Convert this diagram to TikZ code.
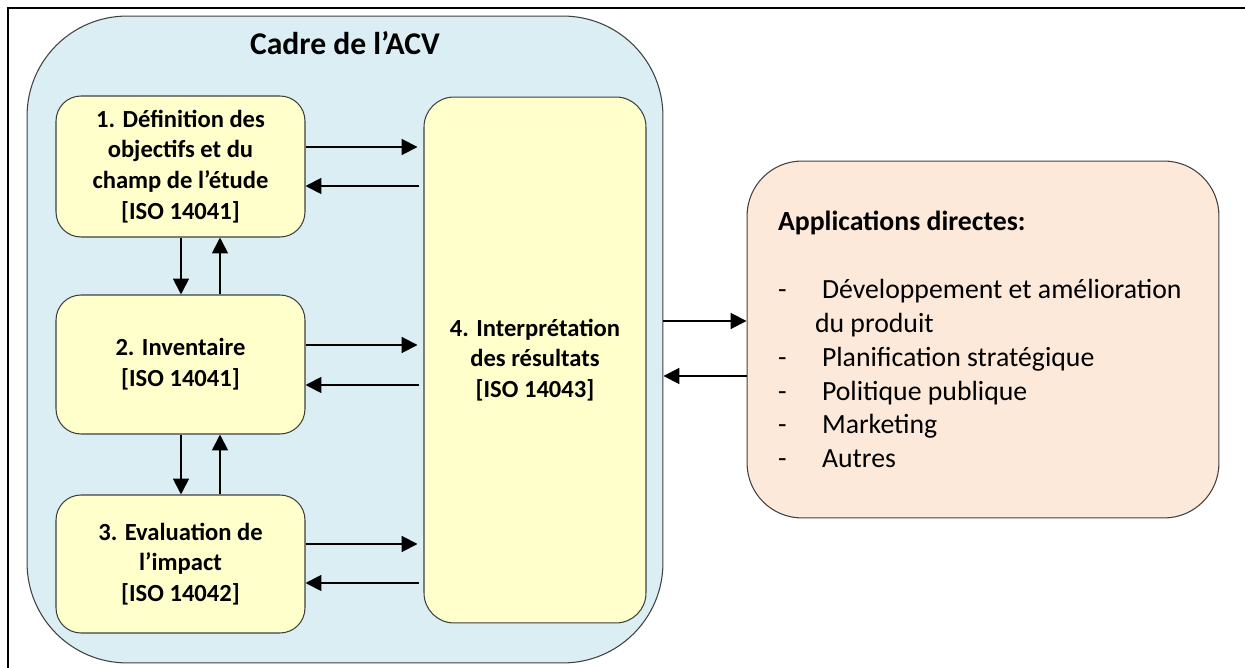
\documentclass[tikz,border=0pt]{standalone}
\usepackage{fontspec}
\setmainfont{Carlito}
\usetikzlibrary{arrows.meta}
\definecolor{cadrebleu}{HTML}{DAEEF3}
\definecolor{etapejaune}{HTML}{FFFFCC}
\definecolor{appliorange}{HTML}{FDE9D9}
\definecolor{bordgris}{HTML}{404040}
\tikzset{
	etape/.style={draw=bordgris, line width=0.6pt, fill=etapejaune, rounded corners=0.5cm, align=center, inner sep=0pt, font=\fontsize{14}{17.5}\selectfont\bfseries},
	fleche/.style={line width=1.1pt, -{Triangle[length=9pt,width=9pt]}},
}

\begin{document}
\begin{tikzpicture}[x=0.02cm, y=-0.02cm]
		%%%%% START %%%%%
		\useasboundingbox (0,0) rectangle (1245,668);
		\draw[line width=1.2pt] (8,8) rectangle (1270,690);
		
		\node[draw=bordgris, line width=0.6pt, fill=cadrebleu, rounded corners=2cm, minimum width=12.72cm, minimum height=12.94cm] (cadre) at (345,339.5) {};
		\node[font=\fontsize{18}{21}\selectfont\bfseries] (titre) at (345,43) {Cadre de l’ACV};
		
		\node[etape, minimum width=4.98cm, minimum height=2.82cm] (definition) at (180.5,166.5) {1. Définition des\\objectifs et du\\champ de l’étude\\{[ISO 14041]}};
		\node[etape, minimum width=4.98cm, minimum height=2.78cm] (inventaire) at (180.5,364.5) {2. Inventaire\\{[ISO 14041]}};
		\node[etape, minimum width=4.98cm, minimum height=2.76cm] (evaluation) at (180.5,564) {3. Evaluation de\\l’impact\\{[ISO 14042]}};
		\node[etape, rounded corners=0.6cm, minimum width=4.44cm, minimum height=10.52cm] (interpretation) at (535,360) {4. Interprétation\\des résultats\\{[ISO 14043]}};
		
		\node[draw=bordgris, line width=0.6pt, fill=appliorange, rounded corners=1.1cm, minimum width=9.44cm, minimum height=7.14cm, text width=8.2cm, inner xsep=0.62cm, align=flush left, font=\fontsize{15.8}{19.3}\selectfont] (applications) at (983,339.5) {\textbf{Applications directes:}\\[19.3pt]
			\makebox[0.88cm][l]{-}Développement et amélioration\\
			\hspace*{0.74cm}du produit\\
			\makebox[0.88cm][l]{-}Planification stratégique\\
			\makebox[0.88cm][l]{-}Politique publique\\
			\makebox[0.88cm][l]{-}Marketing\\
			\makebox[0.88cm][l]{-}Autres};
		
		% etapes <-> interpretation
		\draw[fleche, shorten >=3.4pt] (definition.east |- 0,147) -- (interpretation.west |- 0,147);
		\draw[fleche, shorten <=2.3pt] (interpretation.west |- 0,186) -- (definition.east |- 0,186);
		\draw[fleche, shorten >=3.4pt] (inventaire.east |- 0,345) -- (interpretation.west |- 0,345);
		\draw[fleche, shorten <=2.3pt] (interpretation.west |- 0,385) -- (inventaire.east |- 0,385);
		\draw[fleche, shorten >=3.4pt] (evaluation.east |- 0,544) -- (interpretation.west |- 0,544);
		\draw[fleche, shorten <=2.3pt] (interpretation.west |- 0,583) -- (evaluation.east |- 0,583);
		
		% etapes entre elles
		\draw[fleche] (definition.south -| 181,0) -- (inventaire.north -| 181,0);
		\draw[fleche] (inventaire.north -| 220,0) -- (definition.south -| 220,0);
		\draw[fleche] (inventaire.south -| 181,0) -- (evaluation.north -| 181,0);
		\draw[fleche] (evaluation.north -| 220,0) -- (inventaire.south -| 220,0);
		
		% cadre <-> applications
		\draw[fleche] (cadre.east |- 0,321) -- (applications.west |- 0,321);
		\draw[fleche] (applications.west |- 0,376) -- (cadre.east |- 0,376);
		%%%%% END %%%%%
\end{tikzpicture}
\end{document}
